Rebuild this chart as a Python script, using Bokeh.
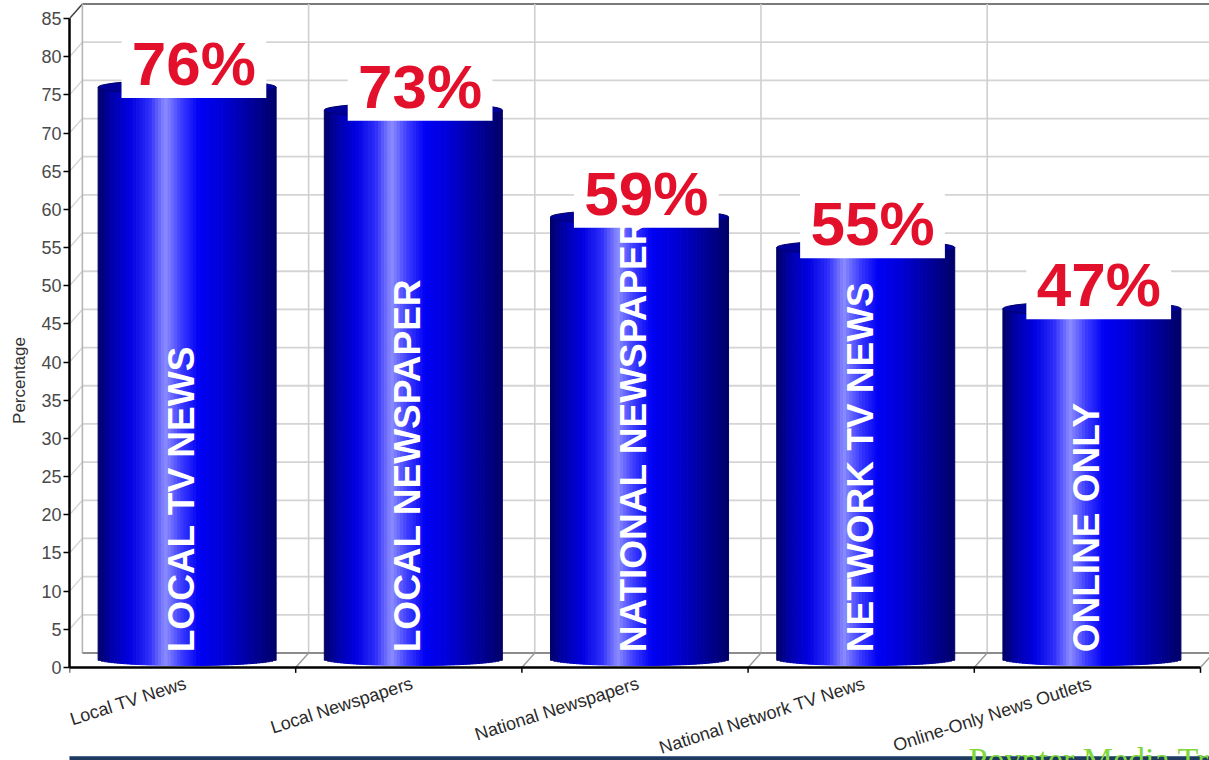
import numpy as np
from bokeh.plotting import figure
from bokeh.models import Range1d, FixedTicker, LinearAxis
from bokeh.core.properties import value
from bokeh.embed import file_html
from bokeh.resources import INLINE

# ---------------- data ----------------
categories = ["Local TV News", "Local Newspapers", "National Newspapers",
              "National Network TV News", "Online-Only News Outlets"]
values = [76, 73, 59, 55, 47]
value_labels = ["76%", "73%", "59%", "55%", "47%"]
bar_texts = ["LOCAL TV NEWS", "LOCAL NEWSPAPER", "NATIONAL NEWSPAPER",
             "NETWORK TV NEWS", "ONLINE ONLY"]
y_ticks = list(range(0, 90, 5))
y_axis_title = "Percentage"
credit = "Poynter Media Trust"

# ---------------- layout / style ----------------
W, H = 1209, 760
PX_Y = 7.635                 # pixels per percentage point
PX_X = 226.2                 # pixels per category
FRAME_LEFT = 69
ZERO_PX = 667                # pixel row of y = 0
Y_MAX = ZERO_PX / PX_Y
Y_MIN = -(H - ZERO_PX) / PX_Y
X_MAX = (W - FRAME_LEFT) / PX_X
FONT = "Liberation Sans"
DX, DY = 0.057, 1.9          # 3D depth offset (data units)
BAR_W = 0.787
BAR_SHIFT = 0.52

p = figure(width=W, height=H, output_backend="svg", toolbar_location=None,
           x_range=Range1d(0, X_MAX), y_range=Range1d(Y_MIN, Y_MAX),
           min_border_left=FRAME_LEFT, min_border_right=0, min_border_top=0,
           min_border_bottom=0,
           x_axis_location=None, y_axis_location=None)
p.outline_line_color = None
p.background_fill_color = "white"
p.border_fill_color = "white"
for g in p.grid:
    g.visible = False

# y axis
yaxis = LinearAxis(ticker=FixedTicker(ticks=y_ticks), bounds=(0, 85),
                   axis_line_color="black", axis_line_width=2.5,
                   major_tick_out=6, major_tick_in=0, major_tick_line_color="black",
                   major_tick_line_width=1.5,
                   minor_tick_line_color=None,
                   major_label_text_font=FONT, major_label_text_font_size="18px",
                   major_label_text_color="#4a4a4a", major_label_standoff=2,
                   axis_label=y_axis_title, axis_label_text_font=FONT,
                   axis_label_text_font_size="17px",
                   axis_label_text_font_style="normal",
                   axis_label_text_color="#333333", axis_label_standoff=9)
p.add_layout(yaxis, "left")

n = len(categories)

# ---------------- bottom band (behind everything else) ----------------
p.quad(left=[-1], right=[X_MAX + 1], bottom=[Y_MIN - 1], top=[-(756 - ZERO_PX) / PX_Y],
       fill_color="#1f3a5e", line_color="#4a6a92", line_width=1)

# ---------------- 3D walls ----------------
inner_ticks = y_ticks[1:-1]
grid_y = [t + DY for t in inner_ticks]
p.segment(x0=[DX] * len(grid_y), y0=grid_y, x1=[X_MAX + 1] * len(grid_y), y1=grid_y,
          line_color="#d4d4d4", line_width=1.8)
# top edge of back wall
p.segment(x0=[DX], y0=[85 + DY], x1=[X_MAX + 1], y1=[85 + DY],
          line_color="#7a7a7a", line_width=2.2)
# left wall diagonals
p.segment(x0=[0] * len(inner_ticks), y0=inner_ticks,
          x1=[DX] * len(inner_ticks), y1=grid_y,
          line_color="#d4d4d4", line_width=1.4)
p.segment(x0=[0], y0=[85], x1=[DX], y1=[85 + DY], line_color="#444444", line_width=1.6)
# back wall left edge
p.segment(x0=[DX], y0=[DY], x1=[DX], y1=[85 + DY], line_color="#b5b5b5", line_width=1.6)
# back wall verticals
xs_v = [i + DX for i in range(1, n)]
p.segment(x0=xs_v, y0=[DY] * len(xs_v), x1=xs_v, y1=[85 + DY] * len(xs_v),
          line_color="#cfcfcf", line_width=1.6)
# floor: back edge and diagonals
p.segment(x0=[DX], y0=[DY], x1=[X_MAX + 1], y1=[DY], line_color="#8c8c8c", line_width=2)
xs_f = list(range(1, n + 1))
p.segment(x0=xs_f, y0=[0] * len(xs_f), x1=[x + DX for x in xs_f], y1=[DY] * len(xs_f),
          line_color="#9a9a9a", line_width=1.4)
# front floor edge and category boundary ticks
p.segment(x0=[0], y0=[0], x1=[n], y1=[0], line_color="black", line_width=2.5)
xs_t = list(range(0, n + 1))
p.segment(x0=xs_t, y0=[0] * len(xs_t), x1=xs_t, y1=[-0.7] * len(xs_t),
          line_color="black", line_width=1.5)

# ---------------- cylinder bars ----------------
stops = [(0.00, (0, 0, 100)), (0.07, (0, 0, 165)), (0.18, (0, 0, 225)),
         (0.29, (45, 45, 250)), (0.38, (140, 140, 255)), (0.47, (60, 60, 255)),
         (0.57, (0, 0, 245)), (0.70, (0, 0, 215)), (0.85, (0, 0, 160)),
         (1.00, (0, 0, 105))]


def grad(u):
    for (u0, c0), (u1, c1) in zip(stops[:-1], stops[1:]):
        if u0 <= u <= u1:
            t = (u - u0) / (u1 - u0)
            c = [int(round(a + (b - a) * t)) for a, b in zip(c0, c1)]
            return "#%02x%02x%02x" % tuple(c)
    return "#%02x%02x%02x" % stops[-1][1]


N = 56
left, right, bottom, top, color = [], [], [], [], []
centers = [i + BAR_SHIFT for i in range(n)]
for c, v in zip(centers, values):
    for k in range(N):
        u0, u1 = k / N, (k + 1) / N
        um = (u0 + u1) / 2
        s = 2 * um - 1
        left.append(c - BAR_W / 2 + u0 * BAR_W)
        right.append(c - BAR_W / 2 + u1 * BAR_W)
        bottom.append(0.25 + 0.85 * (1 - np.sqrt(max(0.0, 1 - s * s))))
        top.append(v)
        color.append(grad(um))
p.quad(left=left, right=right, bottom=bottom, top=top,
       fill_color=color, line_color=color, line_width=1)

# top caps
p.ellipse(x=centers, y=values, width=BAR_W, height=1.9,
          fill_color="#00009a", line_color="#00006e", line_width=1)

# value label boxes + red text
BOX_W = 0.64
box_c = [c + 0.03 for c in centers]
p.quad(left=[c - BOX_W / 2 for c in box_c], right=[c + BOX_W / 2 for c in box_c],
       bottom=[v - 1.4 for v in values], top=[v + 7.6 for v in values],
       fill_color="white", line_color=None)
p.text(x=box_c, y=[v + 3.1 for v in values], text=value_labels,
       text_font=value(FONT), text_font_style="bold", text_font_size="62px",
       text_color="#e3102c", text_align="center", text_baseline="middle")

# vertical text inside bars
p.text(x=[c - 0.025 for c in centers], y=[2.0] * n, text=bar_texts,
       angle=np.pi / 2, text_font=value(FONT), text_font_style="bold",
       text_font_size="37px", text_color="white",
       text_align="left", text_baseline="middle")

# category labels (rotated, right end at category centre)
p.text(x=[c - 0.005 for c in centers], y=[-2.0] * n, text=categories,
       angle=0.31, text_font=value(FONT), text_font_size="18px",
       text_color="#2a2a2a", text_align="right", text_baseline="middle")

# credit (cut at the bottom edge as in the source)
p.text(x=[(968 - FRAME_LEFT) / PX_X], y=[-(759 - ZERO_PX) / PX_Y], text=[credit],
       text_font=value("Liberation Serif"), text_font_size="34px",
       text_color="#7fd93a", text_align="left", text_baseline="middle")

open("out.html", "w").write(file_html(p, INLINE))
